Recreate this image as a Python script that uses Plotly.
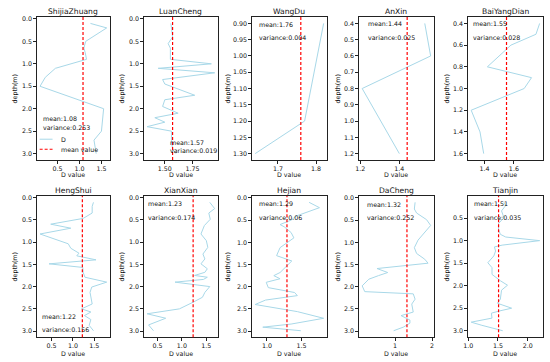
import plotly.graph_objects as go

# ---------------- data ----------------
titles = ["ShijiaZhuang", "LuanCheng", "WangDu", "AnXin", "BaiYangDian",
          "HengShui", "XianXian", "Hejian", "DaCheng", "Tianjin"]

depth_shijiazhuang = [0.1, 0.2, 0.5, 0.65, 0.75, 0.9, 1.1, 1.3, 1.5, 2.0, 2.5, 2.7, 3.0]
d_shijiazhuang = [1.25, 1.62, 1.14, 1.10, 1.13, 1.16, 0.45, 0.22, 0.10, 1.55, 1.50, 1.33, 1.38]

depth_luancheng = [0.1, 0.3, 0.4, 0.55, 0.65, 0.9, 1.0, 1.1, 1.2, 1.35, 1.45, 1.7, 1.8, 1.95,
                   2.1, 2.2, 2.3, 2.4, 2.5, 2.7, 2.9, 3.0]
d_luancheng = [1.555, 1.565, 1.57, 1.53, 1.55, 1.55, 1.92, 1.44, 1.95, 1.48, 1.50, 1.77, 1.50, 1.48,
               1.62, 1.41, 1.50, 1.34, 1.56, 1.56, 1.57, 1.60]

depth_wangdu = [0.9, 1.2, 1.3]
d_wangdu = [1.82, 1.77, 1.64]

depth_anxin = [0.4, 0.6, 0.8, 1.2]
d_anxin = [1.53, 1.56, 1.21, 1.40]

depth_baiyangdian = [0.4, 0.5, 0.6, 0.8, 0.9, 1.0, 1.2, 1.4, 1.6]
d_baiyangdian = [1.775, 1.75, 1.58, 1.42, 1.72, 1.67, 1.31, 1.37, 1.395]

depth_hengshui = [0.11, 0.2, 0.35, 0.47, 0.6, 0.69, 0.82, 1.04, 1.14, 1.25, 1.31, 1.4, 1.49, 1.57,
                  1.68, 1.79, 1.9, 2.01, 2.13, 2.24, 2.39, 2.5, 2.57, 2.65, 2.74, 2.87, 2.99]
d_hengshui = [1.48, 1.45, 1.45, 1.24, 0.48, 0.95, 0.23, 0.89, 0.95, 1.14, 1.09, 1.54, 0.44, 1.23,
              1.24, 1.28, 1.79, 1.44, 1.40, 1.42, 1.45, 1.20, 1.42, 1.27, 1.42, 1.38, 1.48]

depth_xianxian = [0.11, 0.25, 0.35, 0.49, 0.63, 0.82, 0.97, 1.12, 1.27, 1.38, 1.49, 1.6, 1.68, 1.75,
                  1.79, 1.84, 1.9, 2.0, 2.13, 2.24, 2.35, 2.5, 2.61, 2.71, 2.86, 2.99]
d_xianxian = [1.57, 1.67, 1.55, 1.58, 1.46, 1.39, 1.50, 1.53, 1.43, 1.47, 1.39, 1.52, 1.47, 1.26,
              1.52, 1.44, 0.86, 1.57, 1.47, 1.42, 1.23, 0.95, 0.29, 0.67, 0.32, 0.42]

depth_hejian = [0.1, 0.22, 0.41, 0.5, 0.6, 0.65, 0.78, 0.9, 1.12, 1.3, 1.42, 1.68, 1.75, 1.82,
                1.9, 2.02, 2.13, 2.2, 2.3, 2.4, 2.56, 2.71, 2.84, 2.91, 2.99]
d_hejian = [1.61, 1.76, 1.42, 1.35, 1.19, 1.25, 1.35, 1.39, 1.19, 1.14, 1.36, 1.19, 1.10, 1.19,
            0.99, 1.02, 1.40, 1.44, 0.98, 0.83, 1.44, 1.82, 1.35, 0.94, 1.49]

depth_dacheng = [0.1, 0.25, 0.34, 0.49, 0.62, 0.78, 0.95, 1.12, 1.25, 1.38, 1.47, 1.59, 1.68, 1.75,
                 1.83, 1.98, 2.11, 2.16, 2.28, 2.39, 2.57, 2.65, 2.75, 2.82, 2.91, 2.99]
d_dacheng = [1.54, 1.52, 1.58, 1.85, 1.96, 1.80, 1.62, 1.52, 1.58, 1.80, 1.89, 0.51, 0.80, 0.55,
             0.29, 0.11, 0.18, 1.49, 1.54, 1.45, 1.49, 1.16, 1.40, 1.40, 1.22, 0.96]

depth_tianjin = [0.15, 0.22, 0.34, 0.49, 0.62, 0.75, 0.86, 0.92, 1.0, 1.1, 1.14, 1.23, 1.34, 1.49,
                 1.6, 1.75, 1.89, 1.99, 2.1, 2.3, 2.39, 2.5, 2.56, 2.61, 2.72, 2.81, 2.88, 3.0]
d_tianjin = [1.60, 1.63, 1.56, 1.60, 1.51, 1.51, 1.54, 1.63, 2.20, 1.57, 1.44, 1.46, 1.43, 1.33,
             1.40, 1.40, 1.54, 1.66, 1.56, 1.54, 1.49, 1.73, 1.53, 1.39, 1.40, 1.05, 1.23, 1.58]

means = [1.08, 1.57, 1.76, 1.44, 1.55, 1.22, 1.23, 1.29, 1.32, 1.51]
variances = [0.253, 0.019, 0.004, 0.025, 0.028, 0.156, 0.174, 0.06, 0.252, 0.035]

x_tick_vals = [[0.5, 1.0, 1.5], [1.50, 1.75], [1.7, 1.8], [1.2, 1.4], [1.4, 1.6],
               [0.5, 1.0, 1.5], [0.5, 1.0, 1.5], [1.0, 1.5], [1, 2], [1.0, 1.5, 2.0]]
x_tick_text = [["0.5", "1.0", "1.5"], ["1.50", "1.75"], ["1.7", "1.8"], ["1.2", "1.4"], ["1.4", "1.6"],
               ["0.5", "1.0", "1.5"], ["0.5", "1.0", "1.5"], ["1.0", "1.5"], ["1", "2"], ["1.0", "1.5", "2.0"]]
y_tick_full = ["0.0", "0.5", "1.0", "1.5", "2.0", "2.5", "3.0"]
y_tick_text = [y_tick_full, y_tick_full,
               ["0.90", "0.95", "1.00", "1.05", "1.10", "1.15", "1.20", "1.25", "1.30"],
               ["0.4", "0.5", "0.6", "0.7", "0.8", "0.9", "1.0", "1.1", "1.2"],
               ["0.4", "0.6", "0.8", "1.0", "1.2", "1.4", "1.6"],
               y_tick_full, y_tick_full, y_tick_full, y_tick_full, y_tick_full]
x_label = "D value"
y_label = "depth(m)"

depths = [depth_shijiazhuang, depth_luancheng, depth_wangdu, depth_anxin, depth_baiyangdian,
          depth_hengshui, depth_xianxian, depth_hejian, depth_dacheng, depth_tianjin]
dvals = [d_shijiazhuang, d_luancheng, d_wangdu, d_anxin, d_baiyangdian,
         d_hengshui, d_xianxian, d_hejian, d_dacheng, d_tianjin]

# ---------------- layout / style ----------------
W, H = 550, 362
col_px = [(32, 106), (140, 215), (249, 325), (357, 433), (467, 543)]
row_px = [(15, 159), (195, 337)]
xlabel_gap = [14, 16]
ylabel_gap = [22, 22, 24, 21, 21]
text_pos = [(0.054, 0.292, 0.229), (0.333, 0.125, 0.069), (0.066, 0.944, 0.854),
            (0.092, 0.951, 0.854), (0.04, 0.951, 0.854), (0.04, 0.148, 0.056),
            (0.026, 0.944, 0.845), (0.066, 0.944, 0.845), (0.08, 0.937, 0.845),
            (0.053, 0.944, 0.845)]

LINE_COLOR = "#a8d8e8"
RED = "#ff0000"
FONT = "DejaVu Sans"
TICK_FS = 6.3
TITLE_FS = 7.6
TXT = "#111"

fig = go.Figure()
shapes = []
annotations = []
layout = {}

for i in range(10):
    r, c = divmod(i, 5)
    n = i + 1
    xa = "x" if n == 1 else f"x{n}"
    ya = "y" if n == 1 else f"y{n}"
    xkey = "xaxis" if n == 1 else f"xaxis{n}"
    ykey = "yaxis" if n == 1 else f"yaxis{n}"

    fig.add_trace(go.Scatter(x=dvals[i], y=depths[i], mode="lines",
                             line=dict(color=LINE_COLOR, width=1.0),
                             xaxis=xa, yaxis=ya, showlegend=False, hoverinfo="skip"))

    x0, x1 = col_px[c]
    y0, y1 = row_px[r]
    xd = [x0 / W, x1 / W]
    yd = [1 - y1 / H, 1 - y0 / H]

    xs = dvals[i] + [means[i]]
    xmin, xmax = min(xs), max(xs)
    xp = 0.05 * (xmax - xmin)
    ymin, ymax = min(depths[i]), max(depths[i])
    yp = 0.05 * (ymax - ymin)
    ytv = [float(t) for t in y_tick_text[i]]

    axis_common = dict(showgrid=False, zeroline=False, showline=True, mirror=True,
                       linecolor="#222", linewidth=0.8, ticks="outside", ticklen=2.5,
                       tickwidth=0.7, tickcolor="#222",
                       tickfont=dict(family=FONT, size=TICK_FS, color=TXT))
    layout[xkey] = dict(axis_common, domain=xd, anchor=ya, range=[xmin - xp, xmax + xp],
                        tickmode="array", tickvals=x_tick_vals[i], ticktext=x_tick_text[i])
    layout[ykey] = dict(axis_common, domain=yd, anchor=xa, range=[ymax + yp, ymin - yp],
                        tickmode="array", tickvals=ytv, ticktext=y_tick_text[i])

    # axis labels
    annotations.append(dict(text=x_label, xref="paper", yref="paper",
                            x=(xd[0] + xd[1]) / 2, y=1 - (y1 + xlabel_gap[r]) / H,
                            xanchor="center", yanchor="middle", showarrow=False,
                            font=dict(family=FONT, size=TICK_FS, color=TXT)))
    annotations.append(dict(text=y_label, xref="paper", yref="paper", textangle=-90,
                            x=(x0 - ylabel_gap[c]) / W, y=(yd[0] + yd[1]) / 2,
                            xanchor="center", yanchor="middle", showarrow=False,
                            font=dict(family=FONT, size=TICK_FS, color=TXT)))

    # mean line
    shapes.append(dict(type="line", xref=xa, yref=f"{ya} domain", x0=means[i], x1=means[i],
                       y0=0, y1=1, line=dict(color=RED, width=1.2, dash="3px,2px")))

    # subplot title
    annotations.append(dict(text=titles[i], xref="paper", yref="paper",
                            x=(xd[0] + xd[1]) / 2, y=yd[1] + 5 / H, xanchor="center",
                            yanchor="middle", showarrow=False,
                            font=dict(family=FONT, size=TITLE_FS, color=TXT)))

    tx, tym, tyv = text_pos[i]
    annotations.append(dict(text=f"mean:{means[i]}", xref=f"{xa} domain", yref=f"{ya} domain",
                            x=tx, y=tym, xanchor="left", yanchor="middle", showarrow=False,
                            font=dict(family=FONT, size=TICK_FS, color=TXT)))
    annotations.append(dict(text=f"variance:{variances[i]}", xref=f"{xa} domain",
                            yref=f"{ya} domain", x=tx, y=tyv, xanchor="left", yanchor="middle",
                            showarrow=False, font=dict(family=FONT, size=TICK_FS, color=TXT)))

# legend (first subplot)
leg_items = [("D", LINE_COLOR, 1.0, "solid", 0.146), ("mean value", RED, 1.2, "3px,2px", 0.076)]
for label, col, lw, dash, ly in leg_items:
    shapes.append(dict(type="line", xref="x domain", yref="y domain", x0=0.04, x1=0.216,
                       y0=ly, y1=ly, line=dict(color=col, width=lw, dash=dash)))
    annotations.append(dict(text=label, xref="x domain", yref="y domain", x=0.31, y=ly,
                            xanchor="left", yanchor="middle", showarrow=False,
                            font=dict(family=FONT, size=TICK_FS, color=TXT)))

fig.update_layout(width=W, height=H, margin=dict(l=0, r=0, t=0, b=0),
                  plot_bgcolor="white", paper_bgcolor="white",
                  shapes=shapes, annotations=annotations, showlegend=False, **layout)

fig.write_html("out.html", config={"displayModeBar": False},
               post_script="document.body.style.margin='0px';document.body.style.overflow='hidden';")
